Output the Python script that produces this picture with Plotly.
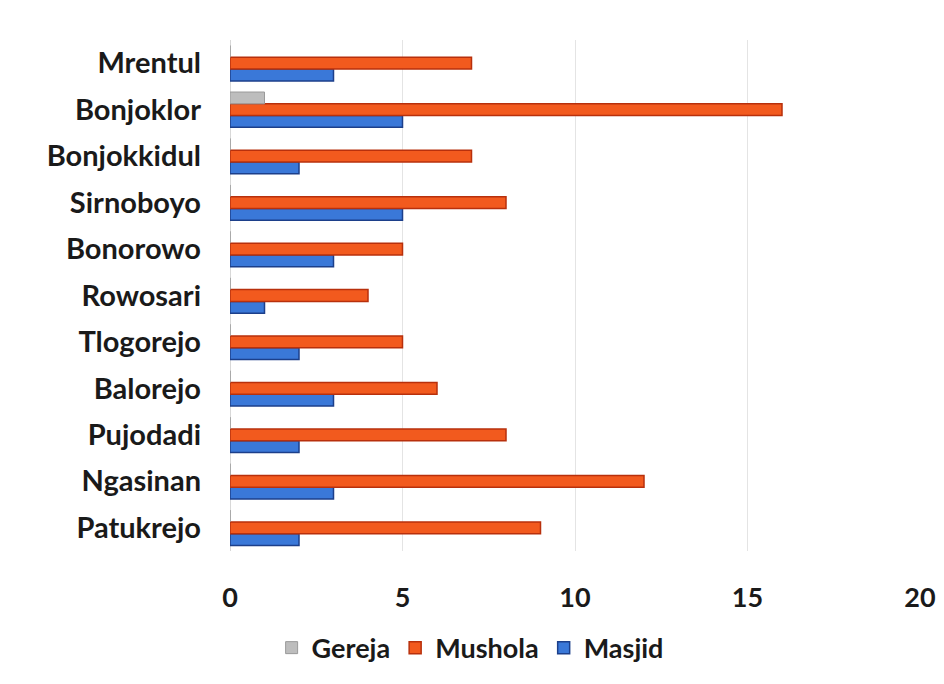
import plotly.graph_objects as go

categories = ["Mrentul", "Bonjoklor", "Bonjokkidul", "Sirnoboyo", "Bonorowo",
              "Rowosari", "Tlogorejo", "Balorejo", "Pujodadi", "Ngasinan", "Patukrejo"]
gereja = [0, 1, 0, 0, 0, 0, 0, 0, 0, 0, 0]
mushola = [7, 16, 7, 8, 5, 4, 5, 6, 8, 12, 9]
masjid = [3, 5, 2, 5, 3, 1, 2, 3, 2, 3, 2]
x_ticks = [0, 5, 10, 15, 20]

# plot bottom-to-top
cats = categories[::-1]
font_family = "Lato, 'Open Sans', sans-serif"

fig = go.Figure()
fig.add_trace(go.Bar(y=cats, x=masjid[::-1], orientation="h", name="Masjid",
                     marker=dict(color="#3a78d8", line=dict(color="#1c3f8a", width=1.5))))
fig.add_trace(go.Bar(y=cats, x=mushola[::-1], orientation="h", name="Mushola",
                     marker=dict(color="#f25a1e", line=dict(color="#b8300c", width=1.5))))
fig.add_trace(go.Bar(y=cats, x=gereja[::-1], orientation="h", name="Gereja",
                     marker=dict(color="#bdbdbd", line=dict(color="#9a9a9a", width=1))))

fig.update_layout(
    width=936, height=676,
    barmode="group", bargap=0.24, bargroupgap=0,
    paper_bgcolor="white", plot_bgcolor="white",
    margin=dict(l=222, r=24, t=32, b=124),
    font=dict(family=font_family, size=20, color="#1a1a1a"),
    legend=dict(orientation="h", traceorder="reversed", x=0.348, xanchor="center",
                y=-0.19, yanchor="middle", font=dict(size=27, family=font_family, weight="bold"),
                itemwidth=30),
    showlegend=True,
)
fig.update_xaxes(range=[0, 20], tickvals=x_ticks, ticktext=[str(v) for v in x_ticks],
                 showgrid=True, gridcolor="#e4e4e4", gridwidth=1, zeroline=True,
                 zerolinecolor="#d8d8d8", zerolinewidth=1, automargin=False,
                 tickfont=dict(size=27, family=font_family, weight="bold"),
                 ticklabelstandoff=28, showline=False)
fig.update_yaxes(tickfont=dict(size=29, family=font_family, weight="bold"),
                 ticklabelstandoff=28, showline=False, showgrid=False, automargin=False)

fig.write_html("out.html")
